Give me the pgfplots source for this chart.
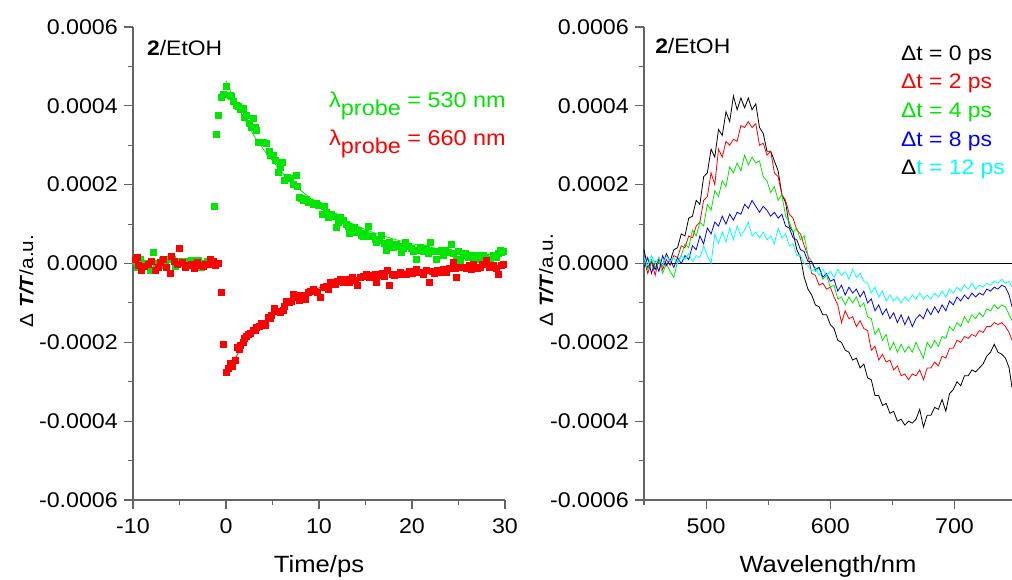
\documentclass[border=0pt]{standalone}
\usepackage{fontspec}
\setmainfont{Liberation Sans}[FakeStretch=1.09]
\usepackage{pgfplots}
\pgfplotsset{compat=1.18}
\definecolor{cgreen}{RGB}{0,230,0}
\definecolor{cred}{RGB}{255,0,0}
\definecolor{cblue}{RGB}{0,0,255}
\definecolor{ccyan}{RGB}{0,255,255}
\definecolor{axgray}{RGB}{100,100,100}
\pgfplotsset{myaxis/.style={
  scale only axis, anchor=south west, height=473pt,
  axis x line*=bottom, axis y line*=left,
  axis line style={-, draw=axgray, line width=1.2pt},
  tick align=outside, major tick length=9pt, minor tick length=5pt,
  tick style={draw=axgray, line width=1.1pt},
  ymin=-6, ymax=6, ytick={-6,-4,-2,0,2,4,6},
  yticklabels={-0.0006,-0.0004,-0.0002,0.0000,0.0002,0.0004,0.0006},
  minor ytick={-5,-3,-1,1,3,5},
  tick label style={font=\fontsize{21.3}{24}\selectfont},
  yticklabel style={anchor=east, inner sep=0pt, xshift=-6pt},
  xticklabel style={anchor=base, inner sep=0pt, yshift=-24pt},
  xlabel style={font=\fontsize{23.5}{27}\selectfont, at={(axis description cs:0.5,-0.1543)}, anchor=base, inner sep=0pt},
  ylabel style={font=\fontsize{19}{22}\selectfont, anchor=base, inner sep=0pt},
  ylabel={Δ \textbf{\textit{T/T}}/a.u.},
  clip=false,
}}
\begin{document}
\begin{tikzpicture}
\path[use as bounding box] (0,0) rectangle (1012pt,579pt);
% ---------------- left panel ----------------
\begin{axis}[myaxis, at={(133pt,79pt)}, width=372pt,
  xmin=-10, xmax=30, xtick={-10,0,10,20,30}, xticklabels={-10,0,10,20,30},
  minor xtick={-5,5,15,25},
  xlabel={Time/ps},
  ylabel style={at={(axis description cs:-0.2688,0.463)}},
]
\addplot[only marks, mark=square*, mark size=3pt, mark options={draw=cgreen, fill=cgreen}] coordinates {
(-9.8,0.05)(-9.5,-0.1)(-9.2,0.12)(-8.9,-0.05)(-8.5,0.0)(-8.2,-0.18)(-7.8,0.29)(-7.5,0.02)(-7.2,-0.05)(-6.9,0.08)
(-6.5,-0.05)(-6.2,0.1)(-5.8,0.12)(-5.5,-0.08)(-5.1,0.05)(-4.8,0.0)(-4.4,0.06)(-4.1,-0.05)(-3.7,0.08)(-3.4,-0.08)
(-3.0,0.08)(-2.7,-0.1)(-2.4,0.02)(-2.0,0.05)(-1.7,0.08)(-1.3,1.45)(-1.04,3.27)(-0.8,3.77)(-0.55,4.22)(-0.3,4.3)
(0.07,4.49)(0.4,4.28)(0.6,4.25)(0.8,4.12)(1.1,4.02)(1.3,3.98)(1.5,3.92)(1.8,3.95)(2.0,3.72)(2.2,3.75)
(2.5,3.55)(2.7,3.47)(2.9,3.68)(3.1,3.45)(3.3,3.38)(3.5,3.07)(3.8,3.08)(4.0,3.07)(4.3,3.05)(4.6,2.85)
(4.8,2.74)(5.1,2.75)(5.3,2.62)(5.6,2.31)(5.8,2.45)(6.0,2.56)(6.3,2.12)(6.6,2.2)(6.9,2.17)(7.2,2.0)
(7.5,2.23)(7.7,1.95)(7.9,1.68)(8.1,1.65)(8.3,1.6)(8.6,1.62)(8.8,1.55)(9.1,1.56)(9.4,1.5)(9.7,1.52)
(9.9,1.48)(10.3,1.25)(10.6,1.45)(10.8,1.3)(11.0,1.17)(11.3,1.25)(11.5,1.21)(11.9,0.92)(12.1,1.05)(12.3,1.17)
(12.6,1.1)(12.9,1.0)(13.1,0.95)(13.3,0.76)(13.6,0.85)(13.8,0.93)(14.0,0.8)(14.2,0.84)(14.5,0.72)(14.7,0.68)
(15.0,0.78)(15.3,0.95)(15.5,0.7)(15.7,0.68)(16.0,0.62)(16.2,0.55)(16.5,0.6)(16.7,0.72)(17.0,0.52)(17.2,0.33)
(17.5,0.55)(17.8,0.5)(18.0,0.42)(18.3,0.5)(18.6,0.45)(18.8,0.29)(19.1,0.4)(19.3,0.55)(19.6,0.45)(19.9,0.38)
(20.1,0.3)(20.4,0.12)(20.7,0.35)(20.9,0.42)(21.2,0.3)(21.5,0.38)(21.7,0.25)(22.0,0.55)(22.3,0.3)(22.6,0.12)
(22.8,0.3)(23.1,0.33)(23.4,0.2)(23.6,0.33)(23.9,0.28)(24.2,0.5)(24.4,0.25)(24.7,0.12)(25.0,0.3)(25.2,0.08)
(25.5,0.22)(25.7,0.25)(26.0,0.15)(26.3,0.22)(26.5,0.17)(26.8,0.12)(27.0,0.2)(27.2,0.21)(27.5,0.15)(27.7,0.22)
(27.9,0.17)(28.2,0.1)(28.4,0.12)(28.7,0.2)(29.0,0.17)(29.3,0.25)(29.5,0.33)(29.8,0.3)
};
\addplot[only marks, mark=square*, mark size=3pt, mark options={draw=cred, fill=cred}] coordinates {
(-9.8,0.1)(-9.6,0.16)(-9.4,-0.05)(-9.07,-0.18)(-8.8,-0.08)(-8.35,-0.01)(-8.0,0.05)(-7.6,-0.18)(-7.3,-0.1)(-7.1,0.03)
(-6.7,0.12)(-6.4,-0.09)(-6.0,-0.24)(-5.84,0.18)(-5.6,0.05)(-5.3,-0.01)(-5.0,0.4)(-4.76,0.03)(-4.4,-0.09)(-4.05,-0.05)
(-3.7,-0.01)(-3.4,-0.12)(-3.15,0.03)(-2.8,-0.05)(-2.5,-0.08)(-2.26,-0.01)(-1.95,-0.03)(-1.7,0.12)(-1.4,0.05)(-1.18,-0.05)
(-0.79,0.02)(-0.54,-0.73)(-0.29,-2.06)(0.0,-2.76)(0.26,-2.65)(0.43,-2.52)(0.68,-2.6)(0.97,-2.45)(1.2,-2.13)(1.4,-2.18)
(1.56,-2.08)(1.8,-2.0)(2.0,-1.9)(2.2,-1.85)(2.4,-1.79)(2.6,-1.76)(2.9,-1.7)(3.1,-1.68)(3.3,-1.61)(3.6,-1.6)
(3.8,-1.52)(4.0,-1.55)(4.2,-1.56)(4.5,-1.35)(4.7,-1.38)(4.9,-1.32)(5.2,-1.13)(5.5,-1.2)(5.8,-1.23)(6.1,-1.19)
(6.3,-1.08)(6.5,-0.96)(6.8,-0.98)(7.0,-0.95)(7.2,-0.77)(7.4,-0.85)(7.6,-0.81)(7.9,-0.92)(8.2,-0.8)(8.5,-0.9)
(8.8,-0.72)(9.1,-0.7)(9.4,-0.64)(9.8,-0.72)(10.1,-0.85)(10.5,-0.6)(10.8,-0.58)(11.0,-0.64)(11.2,-0.47)(11.4,-0.47)
(11.7,-0.52)(12.0,-0.45)(12.3,-0.39)(12.6,-0.48)(12.9,-0.4)(13.1,-0.44)(13.3,-0.47)(13.6,-0.35)(13.9,-0.42)(14.1,-0.55)
(14.4,-0.35)(14.7,-0.33)(15.1,-0.26)(15.4,-0.35)(15.7,-0.3)(16.0,-0.28)(16.2,-0.47)(16.5,-0.3)(16.8,-0.25)(17.0,-0.32)
(17.3,-0.18)(17.6,-0.56)(17.9,-0.28)(18.1,-0.3)(18.4,-0.26)(18.7,-0.22)(19.0,-0.28)(19.4,-0.26)(19.7,-0.2)(20.0,-0.25)
(20.2,-0.2)(20.5,-0.14)(20.8,-0.22)(21.2,-0.26)(21.5,-0.18)(21.9,-0.47)(22.2,-0.2)(22.4,-0.25)(22.7,-0.18)(23.0,-0.22)
(23.4,-0.15)(23.7,-0.22)(24.0,-0.12)(24.4,0.03)(24.6,-0.12)(24.8,-0.35)(25.1,-0.1)(25.5,-0.09)(25.8,-0.12)(26.1,-0.05)
(26.4,-0.14)(26.6,-0.01)(27.0,-0.12)(27.3,-0.09)(27.6,-0.02)(28.0,0.08)(28.3,-0.1)(28.7,-0.05)(29.0,-0.12)(29.3,-0.26)
(29.6,-0.05)(29.8,-0.01)
};
\addplot[cgreen, line width=0.8pt] coordinates {
(0,4.64)(1,4.1)(2,3.66)(3,3.25)(4,2.9)(5,2.6)(6,2.32)(7,2.08)(8,1.86)(9,1.67)(10,1.5)
(12,1.2)(14,0.96)(16,0.77)(18,0.62)(20,0.5)(22,0.41)(24,0.34)(26,0.28)(28,0.23)(30,0.2)};
\addplot[cred, line width=0.8pt] coordinates {
(0.3,-2.6)(1,-2.4)(2,-2.0)(3,-1.72)(4,-1.48)(5,-1.28)(6,-1.1)(7,-0.95)(8,-0.82)(10,-0.62)
(12,-0.47)(14,-0.36)(16,-0.28)(18,-0.22)(20,-0.17)(24,-0.11)(28,-0.07)(30,-0.06)};
\node[anchor=base west, inner sep=0pt, font=\fontsize{21}{24}\selectfont] at (axis cs:-8.5,5.28) {\textbf{2}/EtOH};
\node[anchor=base west, inner sep=0pt, font=\fontsize{21.5}{24}\selectfont, text=cgreen] at (axis cs:11.08,3.96) {λ\raisebox{-8pt}{probe} = 530 nm};
\node[anchor=base west, inner sep=0pt, font=\fontsize{21.5}{24}\selectfont, text=cred] at (axis cs:11.08,3.0) {λ\raisebox{-8pt}{probe} = 660 nm};
\end{axis}
% ---------------- right panel ----------------
\begin{axis}[myaxis, at={(644pt,79pt)}, width=368pt,
  xmin=450, xmax=746.3, xtick={500,600,700}, xticklabels={500,600,700},
  minor xtick={450,550,650},
  xlabel={Wavelength/nm},
  ylabel style={at={(axis description cs:-0.2473,0.465)}},
]
\addplot[black, line width=0.9pt] coordinates {(450,0)(746.3,0)};
\addplot[black, line width=0.8pt] coordinates {
(450,0.35)(453,-0.1)(456,0.05)(459,-0.15)(462,0.1)(465,-0.05)(468,0.25)(471,0.05)(474,0.35)(477,0.4)
(480,0.75)(483,0.7)(486,1.15)(489,1.2)(492,1.6)(495,1.5)(498,2.2)(501,2.3)(504,2.9)(507,2.7)
(510,3.4)(513,3.25)(516,3.85)(519,3.6)(522,4.25)(525,3.9)(528,4.2)(531,3.95)(534,4.2)(537,3.9)
(540,4.05)(543,3.45)(546,3.3)(549,2.85)(552,2.85)(555,2.6)(558,2.35)(561,1.75)(564,1.55)(567,0.95)
(570,0.8)(573,0.35)(576,0.15)(579,-0.35)(582,-0.65)(585,-0.8)(588,-1.05)(591,-1.1)(594,-1.3)(597,-1.3)
(600,-1.55)(603,-1.65)(606,-1.95)(609,-2.0)(612,-2.2)(615,-2.25)(618,-2.45)(621,-2.4)(624,-2.65)(627,-2.55)
(630,-2.9)(633,-2.95)(636,-3.35)(639,-3.35)(642,-3.6)(645,-3.55)(648,-3.8)(651,-3.75)(654,-4.0)(657,-3.95)
(660,-4.1)(663,-4.0)(666,-4.05)(669,-3.95)(672,-3.7)(675,-4.15)(678,-3.85)(681,-3.85)(684,-3.65)(687,-3.7)
(690,-3.45)(693,-3.75)(696,-3.3)(699,-3.2)(702,-3.0)(705,-3.1)(708,-2.85)(711,-2.85)(714,-2.7)(717,-2.75)
(720,-2.65)(723,-2.55)(726,-2.35)(729,-2.25)(732,-2.05)(735,-2.25)(738,-2.3)(741,-2.4)(744,-2.65)(746.3,-3.15)};
\addplot[cred, line width=0.8pt] coordinates {
(450,0.1)(453,-0.25)(456,0.05)(459,-0.3)(462,0.15)(465,-0.15)(468,0.1)(471,-0.05)(474,0.2)(477,0.15)
(480,0.45)(483,0.4)(486,0.7)(489,0.65)(492,0.95)(495,1.05)(498,1.6)(501,1.7)(504,2.3)(507,2.0)
(510,2.9)(513,2.7)(516,3.1)(519,3.0)(522,3.15)(525,3.1)(528,3.5)(531,3.45)(534,3.6)(537,3.45)
(540,3.55)(543,3.0)(546,3.05)(549,2.75)(552,2.85)(555,2.3)(558,2.2)(561,1.75)(564,1.6)(567,1.25)
(570,1.15)(573,0.85)(576,0.75)(579,0.45)(582,0.2)(585,-0.25)(588,-0.3)(591,-0.55)(594,-0.5)(597,-0.65)
(600,-0.6)(603,-0.85)(606,-1.05)(609,-1.5)(612,-1.2)(615,-1.4)(618,-1.35)(621,-1.6)(624,-1.45)(627,-1.65)
(630,-1.7)(633,-2.2)(636,-2.1)(639,-2.45)(642,-2.3)(645,-2.5)(648,-2.45)(651,-2.7)(654,-2.6)(657,-2.85)
(660,-2.8)(663,-2.95)(666,-2.8)(669,-2.85)(672,-2.7)(675,-2.95)(678,-2.65)(681,-2.65)(684,-2.5)(687,-2.6)
(690,-2.35)(693,-2.4)(696,-2.15)(699,-2.15)(702,-1.95)(705,-2.0)(708,-1.85)(711,-1.9)(714,-1.8)(717,-1.85)
(720,-1.7)(723,-1.75)(726,-1.6)(729,-1.6)(732,-1.5)(735,-1.55)(738,-1.5)(741,-1.6)(744,-1.75)(746.3,-1.95)};
\addplot[cgreen, line width=0.8pt] coordinates {
(450,0.05)(453,-0.15)(456,0.1)(459,-0.1)(462,0.05)(465,-0.25)(468,0.0)(471,-0.2)(474,-0.35)(477,0.05)
(480,0.2)(483,0.5)(486,0.4)(489,0.85)(492,0.7)(495,1.05)(498,0.95)(501,1.5)(504,1.35)(507,1.85)
(510,1.7)(513,2.1)(516,1.95)(519,2.45)(522,2.3)(525,2.55)(528,2.35)(531,2.75)(534,2.5)(537,2.7)
(540,2.55)(543,2.6)(546,2.2)(549,2.1)(552,1.8)(555,1.95)(558,1.6)(561,1.75)(564,1.2)(567,1.05)
(570,0.8)(573,0.9)(576,0.6)(579,0.7)(582,0.2)(585,0.05)(588,-0.2)(591,-0.1)(594,-0.4)(597,-0.3)
(600,-0.6)(603,-0.55)(606,-0.9)(609,-0.85)(612,-1.05)(615,-0.85)(618,-1.0)(621,-0.85)(624,-1.1)(627,-1.0)
(630,-1.35)(633,-1.4)(636,-1.8)(639,-1.65)(642,-1.95)(645,-1.8)(648,-2.2)(651,-2.0)(654,-2.25)(657,-2.05)
(660,-2.25)(663,-2.1)(666,-2.25)(669,-2.0)(672,-2.2)(675,-2.4)(678,-2.0)(681,-2.15)(684,-1.95)(687,-2.1)
(690,-1.85)(693,-1.9)(696,-1.6)(699,-1.7)(702,-1.5)(705,-1.6)(708,-1.35)(711,-1.5)(714,-1.3)(717,-1.4)
(720,-1.25)(723,-1.35)(726,-1.15)(729,-1.2)(732,-1.05)(735,-1.15)(738,-1.05)(741,-1.1)(744,-1.3)(746.3,-1.45)};
\addplot[cblue, line width=0.8pt] coordinates {
(450,-0.1)(453,0.15)(456,-0.25)(459,0.05)(462,-0.2)(465,0.2)(468,-0.05)(471,0.1)(474,-0.1)(477,0.15)
(480,0.0)(483,0.2)(486,0.1)(489,0.45)(492,0.35)(495,0.7)(498,0.5)(501,0.9)(504,0.75)(507,1.05)
(510,0.95)(513,1.2)(516,1.0)(519,1.25)(522,1.1)(525,1.3)(528,1.25)(531,1.5)(534,1.4)(537,1.6)
(540,1.45)(543,1.3)(546,1.45)(549,1.35)(552,1.2)(555,1.3)(558,1.15)(561,1.25)(564,0.95)(567,0.9)
(570,0.65)(573,0.6)(576,0.35)(579,0.3)(582,0.05)(585,0.05)(588,-0.15)(591,-0.1)(594,-0.35)(597,-0.25)
(600,-0.45)(603,-0.4)(606,-0.7)(609,-0.55)(612,-0.8)(615,-0.6)(618,-0.75)(621,-0.65)(624,-0.85)(627,-0.7)
(630,-1.0)(633,-0.9)(636,-1.2)(639,-1.05)(642,-1.3)(645,-1.15)(648,-1.4)(651,-1.25)(654,-1.5)(657,-1.3)
(660,-1.55)(663,-1.35)(666,-1.6)(669,-1.4)(672,-1.3)(675,-1.4)(678,-1.15)(681,-1.3)(684,-1.1)(687,-1.25)
(690,-1.05)(693,-1.2)(696,-0.95)(699,-1.05)(702,-0.85)(705,-0.95)(708,-0.8)(711,-0.9)(714,-0.75)(717,-0.85)
(720,-0.75)(723,-0.8)(726,-0.65)(729,-0.7)(732,-0.6)(735,-0.65)(738,-0.55)(741,-0.6)(744,-0.8)(746.3,-1.1)};
\addplot[ccyan, line width=0.8pt] coordinates {
(450,0.15)(453,-0.05)(456,0.2)(459,0.0)(462,0.15)(465,-0.05)(468,0.2)(471,0.05)(474,0.15)(477,0.0)
(480,0.2)(483,0.1)(486,0.25)(489,0.05)(492,0.2)(495,0.15)(498,0.45)(501,0.2)(504,0.0)(507,0.75)
(510,0.5)(513,0.8)(516,0.55)(519,0.9)(522,0.6)(525,0.95)(528,0.7)(531,0.85)(534,1.05)(537,0.7)
(540,0.8)(543,0.65)(546,0.8)(549,0.6)(552,0.7)(555,0.5)(558,0.9)(561,0.65)(564,0.75)(567,0.45)
(570,0.5)(573,0.2)(576,0.2)(579,0.0)(582,-0.05)(585,-0.2)(588,-0.1)(591,-0.3)(594,-0.15)(597,-0.3)
(600,-0.2)(603,-0.35)(606,-0.15)(609,-0.3)(612,-0.2)(615,-0.4)(618,-0.15)(621,-0.35)(624,-0.25)(627,-0.45)
(630,-0.5)(633,-0.75)(636,-0.6)(639,-0.85)(642,-0.7)(645,-0.95)(648,-0.8)(651,-0.95)(654,-0.85)(657,-1.0)
(660,-0.85)(663,-0.95)(666,-0.8)(669,-0.9)(672,-0.75)(675,-0.9)(678,-0.8)(681,-0.9)(684,-0.75)(687,-0.85)
(690,-0.7)(693,-0.85)(696,-0.65)(699,-0.75)(702,-0.6)(705,-0.7)(708,-0.55)(711,-0.65)(714,-0.5)(717,-0.65)
(720,-0.55)(723,-0.6)(726,-0.5)(729,-0.55)(732,-0.45)(735,-0.5)(738,-0.4)(741,-0.5)(744,-0.45)(746.3,-0.6)};
\node[anchor=base west, inner sep=0pt, font=\fontsize{21}{24}\selectfont] at (axis cs:458.9,5.33) {\textbf{2}/EtOH};
\begin{scope}[every node/.style={anchor=base west, inner sep=0pt, font=\fontsize{21}{24}\selectfont}]
\node[text=black] at (axis cs:656.9,5.15) {Δt = 0 ps};
\node[text=cred] at (axis cs:656.9,4.43) {Δt = 2 ps};
\node[text=cgreen] at (axis cs:656.9,3.71) {Δt = 4 ps};
\node[text=cblue] at (axis cs:656.9,2.97) {Δt = 8 ps};
\node[text=black] at (axis cs:656.9,2.26) {Δ\textcolor{ccyan}{t = 12 ps}};
\end{scope}
\end{axis}
\end{tikzpicture}
\end{document}
